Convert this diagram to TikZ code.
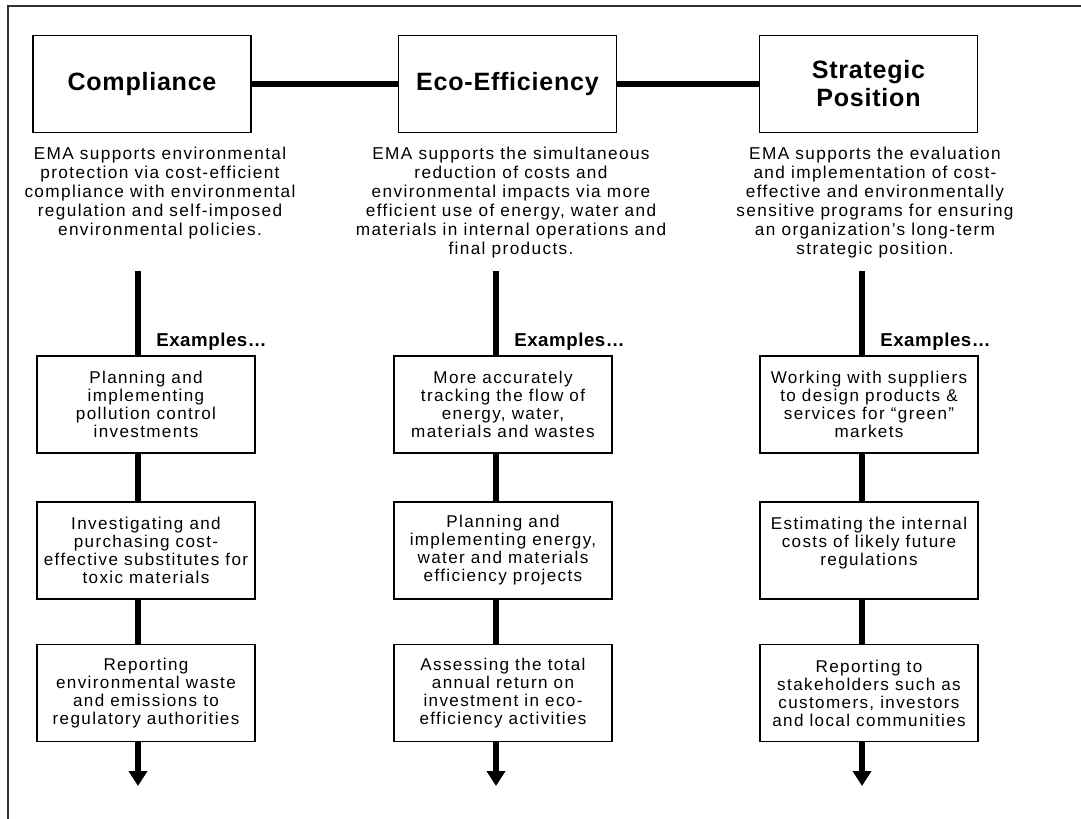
\documentclass[tikz,border=0pt]{standalone}
\usepackage{fontspec}
\setmainfont{Liberation Sans}
\newfontfamily\bodyfont[LetterSpace=8]{Liberation Sans}
\newfontfamily\headfont[LetterSpace=3]{Liberation Sans}
\usetikzlibrary{arrows.meta}

\begin{document}
\begin{tikzpicture}[x=0.75pt,y=-0.75pt,
    headbox/.style={rectangle,draw=black,line width=1pt,minimum width=163.5pt,minimum height=72.75pt,align=center,font=\headfont\fontsize{18.8}{21}\selectfont\bfseries},
    exbox/.style={rectangle,draw=black,line width=1pt,minimum width=163.5pt,minimum height=72.75pt,inner sep=1pt,align=center,font=\bodyfont\fontsize{12.8}{13.5}\selectfont},
    desc/.style={anchor=north,align=center,inner sep=0pt,font=\bodyfont\fontsize{12.9}{14.2}\selectfont},
    exlabel/.style={anchor=west,inner sep=0pt,font=\headfont\fontsize{14}{16}\selectfont\bfseries},
    thickline/.style={line width=4.5pt},
    downarrow/.style={line width=4.5pt,-{Triangle[length=11.25pt,width=13.5pt]}}]
    \useasboundingbox (0,0) rectangle (1081,818);
    \clip (0,0) rectangle (1081,818);

    % Cornice
    \draw[line width=1.2pt,black!80] (8,6) rectangle (1100,840);

    % Box principali
    \node[headbox] (comp) at (142,84) {Compliance};
    \node[headbox] (eco) at (507.5,84) {Eco-Efficiency};
    \node[headbox] (strat) at (868.5,84) {Strategic\\Position};
    \draw[thickline] (comp) -- (eco);
    \draw[thickline] (eco) -- (strat);

    % Descrizioni
    \node[desc] (compdesc) at (160,147) {EMA supports environmental\\protection via cost-efficient\\compliance with environmental\\regulation and self-imposed\\environmental policies.};
    \node[desc] (ecodesc) at (511,147) {EMA supports the simultaneous\\reduction of costs and\\environmental impacts via more\\efficient use of energy, water and\\materials in internal operations and\\final products.};
    \node[desc] (stratdesc) at (875,147) {EMA supports the evaluation\\and implementation of cost-\\effective and environmentally\\sensitive programs for ensuring\\an organization’s long-term\\strategic position.};

    % Esempi - Compliance
    \coordinate (compspine) at (138,271);
    \node[exlabel] (complabel) at (156,342) {Examples…};
    \node[exbox] (compex1) at (146,404.5) {Planning and\\implementing\\pollution control\\investments};
    \node[exbox] (compex2) at (146,550.5) {Investigating and\\purchasing cost-\\effective substitutes for\\toxic materials};
    \node[exbox] (compex3) at (146,693) {Reporting\\environmental waste\\and emissions to\\regulatory authorities};
    \coordinate (compend) at (138,786);
    \draw[thickline] (compspine) -- (compspine |- compex1.north);
    \draw[thickline] (compex1.south -| compspine) -- (compex2.north -| compspine);
    \draw[thickline] (compex2.south -| compspine) -- (compex3.north -| compspine);
    \draw[downarrow] (compex3.south -| compspine) -- (compend);

    % Esempi - Eco-Efficiency
    \coordinate (ecospine) at (496,271);
    \node[exlabel] (ecolabel) at (514,342) {Examples…};
    \node[exbox] (ecoex1) at (503,404.5) {More accurately\\tracking the flow of\\energy, water,\\materials and wastes};
    \node[exbox] (ecoex2) at (503,550.5) {Planning and\\implementing energy,\\water and materials\\efficiency projects};
    \node[exbox] (ecoex3) at (503,693) {Assessing the total\\annual return on\\investment in eco-\\efficiency activities};
    \coordinate (ecoend) at (496,786);
    \draw[thickline] (ecospine) -- (ecospine |- ecoex1.north);
    \draw[thickline] (ecoex1.south -| ecospine) -- (ecoex2.north -| ecospine);
    \draw[thickline] (ecoex2.south -| ecospine) -- (ecoex3.north -| ecospine);
    \draw[downarrow] (ecoex3.south -| ecospine) -- (ecoend);

    % Esempi - Strategic Position
    \coordinate (stratspine) at (862,271);
    \node[exlabel] (stratlabel) at (880,342) {Examples…};
    \node[exbox] (stratex1) at (869,404.5) {Working with suppliers\\to design products \&\\services for “green”\\markets};
    \node[exbox] (stratex2) at (869,550.5) {Estimating the internal\\costs of likely future\\regulations\\\mbox{}};
    \node[exbox] (stratex3) at (869,693) {Reporting to\\stakeholders such as\\customers, investors\\and local communities};
    \coordinate (stratend) at (862,786);
    \draw[thickline] (stratspine) -- (stratspine |- stratex1.north);
    \draw[thickline] (stratex1.south -| stratspine) -- (stratex2.north -| stratspine);
    \draw[thickline] (stratex2.south -| stratspine) -- (stratex3.north -| stratspine);
    \draw[downarrow] (stratex3.south -| stratspine) -- (stratend);
\end{tikzpicture}
\end{document}
